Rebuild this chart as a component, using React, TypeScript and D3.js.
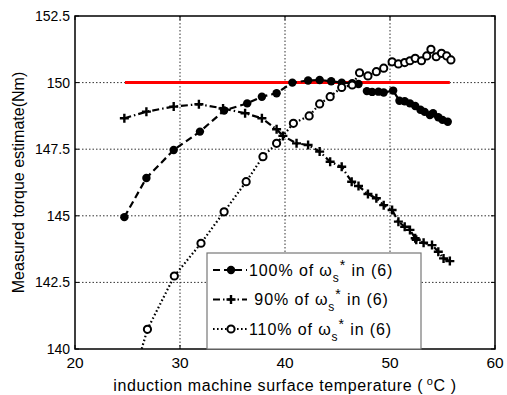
import React from "react";
import * as d3 from "d3";

const xTicks = [20, 30, 40, 50, 60];
const yTicks = [140, 142.5, 145, 147.5, 150, 152.5];
const yTickLabels = ["140", "142.5", "145", "147.5", "150", "152.5"];

const s100T = [24.7, 26.8, 29.4, 31.9, 34.2, 36.4, 37.8, 39.2, 40.7, 42.2, 43.3, 44.4, 45.4, 46.4, 47.0, 47.8, 48.3, 48.9, 49.4, 50.3, 50.9, 51.4, 51.9, 52.4, 52.9, 53.3, 53.8, 54.1, 54.6, 55.0, 55.5];
const s100V = [144.95, 146.42, 147.47, 148.16, 148.95, 149.22, 149.47, 149.6, 150.0, 150.08, 150.1, 150.05, 150.0, 149.98, 149.95, 149.68, 149.65, 149.66, 149.63, 149.7, 149.32, 149.3, 149.22, 149.12, 148.98, 148.9, 148.78, 148.85, 148.7, 148.6, 148.53];

const s90T = [24.7, 26.8, 29.4, 31.8, 34.1, 36.2, 37.8, 39.2, 39.8, 41.1, 42.2, 43.3, 44.3, 45.4, 46.35, 47.0, 47.9, 48.7, 49.4, 50.2, 50.8, 51.4, 51.9, 52.4, 52.5, 53.2, 54.0, 54.6, 55.1, 55.7];
const s90V = [148.66, 148.91, 149.1, 149.19, 149.03, 148.85, 148.66, 148.25, 148.0, 147.72, 147.66, 147.41, 147.03, 146.84, 146.28, 146.12, 145.82, 145.66, 145.4, 145.22, 144.78, 144.59, 144.47, 144.16, 144.1, 143.99, 143.9, 143.65, 143.4, 143.3];

const s110T = [25.6, 26.9, 29.46, 32.0, 34.2, 36.3, 37.9, 39.2, 40.8, 42.3, 43.3, 44.3, 45.4, 46.4, 47.1, 47.9, 48.7, 49.4, 50.2, 50.8, 51.4, 51.9, 52.4, 53.0, 53.5, 53.9, 54.4, 54.9, 55.4, 55.8];
const s110V = [139.0, 140.74, 142.74, 143.97, 145.15, 146.28, 147.22, 147.72, 148.47, 148.75, 149.2, 149.47, 149.82, 149.91, 150.37, 150.25, 150.41, 150.54, 150.78, 150.7, 150.75, 150.82, 150.91, 150.82, 151.0, 151.25, 150.97, 151.1, 151.0, 150.85];

const refT = [24.76, 55.7];
const refV = [150, 150];

const legendLabels = ["100%", "\u00a090%", "110%"];

const W = 507, H = 395;
const L = 75, R = 495, T = 16, B = 349;

export default function App() {
  const x = d3.scaleLinear().domain([20, 60]).range([L, R]);
  const y = d3.scaleLinear().domain([140, 152.5]).range([B, T]);
  const line = d3.line<[number, number]>().x(d => x(d[0])).y(d => y(d[1]));
  const zip = (a: number[], b: number[]) => a.map((v, i) => [v, b[i]] as [number, number]);
  const d100 = zip(s100T, s100V);
  const d90 = zip(s90T, s90V);
  const d110 = zip(s110T, s110V);
  const font = "'Liberation Sans', Arial, sans-serif";

  const dot = (cx: number, cy: number, k: string) => <circle key={k} cx={cx} cy={cy} r={4.2} fill="black" />;
  const plus = (cx: number, cy: number, k: string) => (
    <path key={k} d={`M${cx - 4.5},${cy}H${cx + 4.5}M${cx},${cy - 4.5}V${cy + 4.5}`} stroke="black" strokeWidth={2.4} />
  );
  const ring = (cx: number, cy: number, k: string) => <circle key={k} cx={cx} cy={cy} r={3.6} fill="white" stroke="black" strokeWidth={2} />;

  const styles = [
    { data: d100, dash: "7,4", mk: dot },
    { data: d90, dash: "7,3,1.5,3", mk: plus },
    { data: d110, dash: "1.6,2.4", mk: ring },
  ];

  return (
    <svg width={W} height={H} style={{ position: "absolute", left: 0, top: 0, background: "white" }} fontFamily={font}>
      <defs>
        <clipPath id="pc"><rect x={L} y={T} width={R - L} height={B - T} /></clipPath>
      </defs>
      <rect x={0} y={0} width={W} height={H} fill="white" />
      {xTicks.slice(1, -1).map(t => (
        <line key={"gx" + t} x1={x(t)} x2={x(t)} y1={T} y2={B} stroke="#333" strokeWidth={1} strokeDasharray="1.5,2" />
      ))}
      {yTicks.slice(1, -1).map(t => (
        <line key={"gy" + t} x1={L} x2={R} y1={y(t)} y2={y(t)} stroke="#333" strokeWidth={1} strokeDasharray="1.5,2" />
      ))}
      <g clipPath="url(#pc)">
        <path d={line(zip(refT, refV)) || ""} stroke="#ff0000" strokeWidth={3} fill="none" />
        {styles.map((s, i) => (
          <path key={"l" + i} d={line(s.data) || ""} stroke="black" strokeWidth={2.2} fill="none" strokeDasharray={s.dash} />
        ))}
        {styles.map((s, i) => s.data.map((d, j) => s.mk(x(d[0]), y(d[1]), `m${i}-${j}`)))}
      </g>
      <rect x={L} y={T} width={R - L} height={B - T} fill="none" stroke="black" strokeWidth={1.5} />
      {xTicks.map(t => (
        <g key={"xt" + t}>
          <line x1={x(t)} x2={x(t)} y1={B} y2={B - 4} stroke="black" />
          <line x1={x(t)} x2={x(t)} y1={T} y2={T + 4} stroke="black" />
          <text x={x(t)} y={B + 19} textAnchor="middle" fontSize={15.5}>{t}</text>
        </g>
      ))}
      {yTicks.map((t, i) => (
        <g key={"yt" + t}>
          <line x1={L} x2={L + 4} y1={y(t)} y2={y(t)} stroke="black" />
          <line x1={R} x2={R - 4} y1={y(t)} y2={y(t)} stroke="black" />
          <text x={L - 5} y={y(t) + 5} textAnchor="end" fontSize={14}>{yTickLabels[i]}</text>
        </g>
      ))}
      <text x={x(40)} y={391} textAnchor="middle" fontSize={16} letterSpacing={0.6}>
        induction machine surface temperature (
        <tspan dy={-6} fontSize={11}>{"\u00a0o"}</tspan>
        <tspan dy={6}>C )</tspan>
      </text>
      <text transform={`translate(24,${(T + B) / 2}) rotate(-90)`} textAnchor="middle" fontSize={16}>
        Measured torque estimate(Nm)
      </text>
      <g>
        <rect x={207} y={253} width={214} height={96} fill="white" stroke="#777" strokeWidth={1.2} />
        {styles.map((s, i) => {
          const yy = 270 + i * 29.5;
          return (
            <g key={"lg" + i}>
              <line x1={213} x2={247} y1={yy} y2={yy} stroke="black" strokeWidth={2.2} strokeDasharray={s.dash} />
              {s.mk(231, yy, "lm" + i)}
              <text x={249} y={yy + 5.5} fontSize={16} letterSpacing={0.9}>
                {legendLabels[i]} of ω
                <tspan dy={6} fontSize={12}>s</tspan>
                <tspan dy={-12} fontSize={14}>*</tspan>
                <tspan dy={6}> in (6)</tspan>
              </text>
            </g>
          );
        })}
      </g>
    </svg>
  );
}
